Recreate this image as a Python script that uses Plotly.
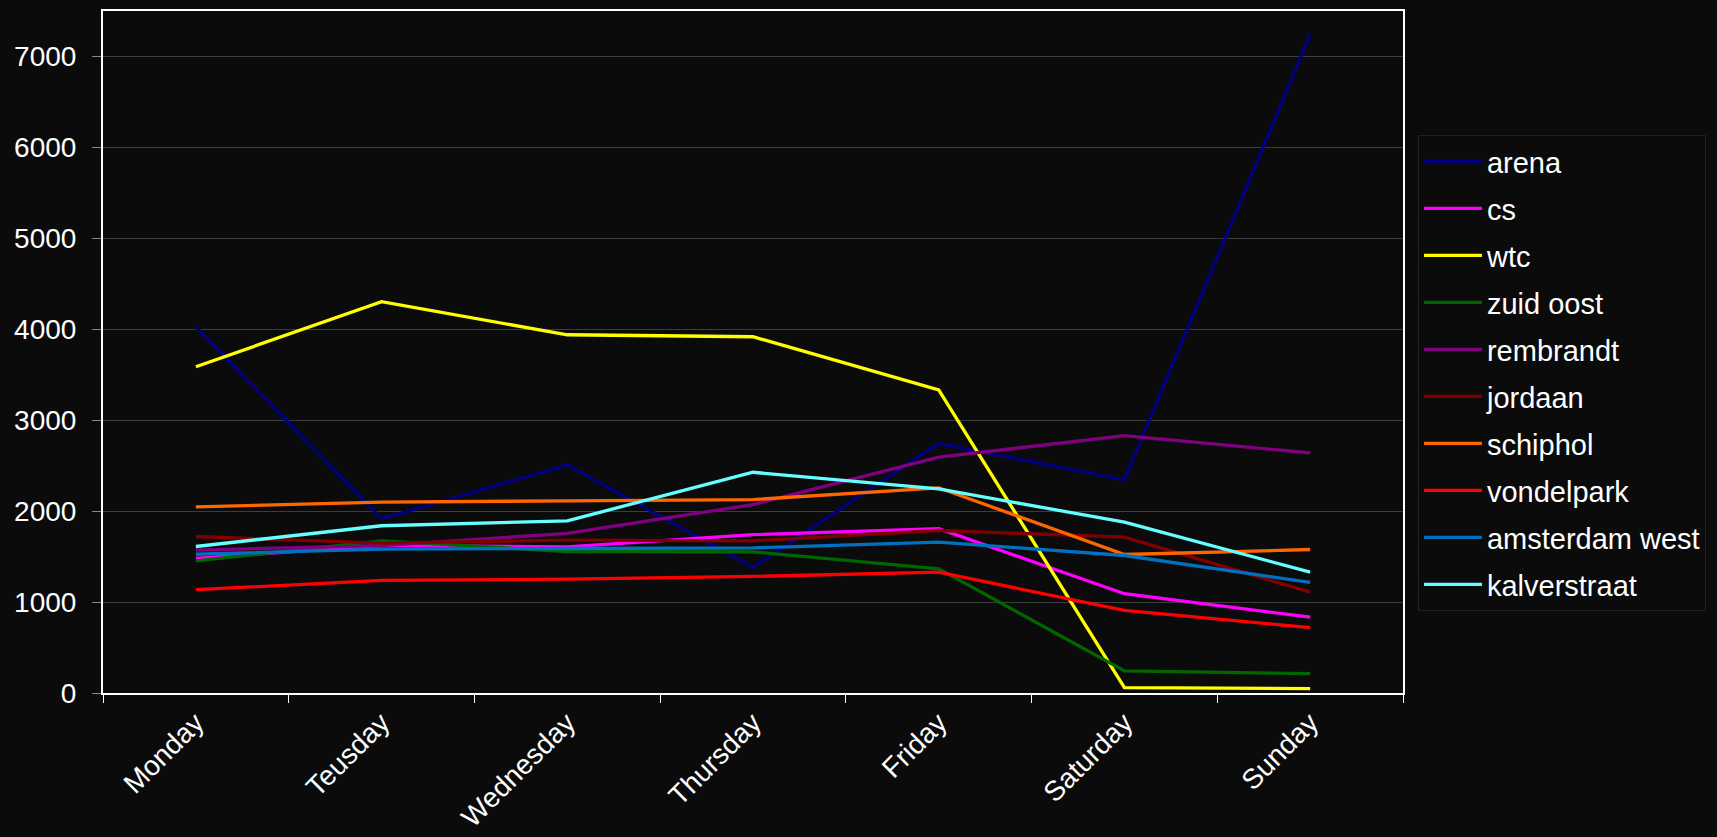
import plotly.graph_objects as go

# Weekly visitor counts per location
days = ["Monday", "Teusday", "Wednesday", "Thursday", "Friday", "Saturday", "Sunday"]

arena = [4025, 1914, 2507, 1380, 2744, 2342, 7238]
cs = [1480, 1623, 1605, 1740, 1805, 1091, 834]
wtc = [3586, 4300, 3937, 3915, 3330, 59, 48]
zuid_oost = [1451, 1672, 1555, 1552, 1365, 242, 213]
rembrandt = [1571, 1620, 1755, 2071, 2591, 2829, 2639]
jordaan = [1720, 1648, 1680, 1672, 1786, 1713, 1109]
schiphol = [2046, 2097, 2112, 2126, 2255, 1522, 1577]
vondelpark = [1135, 1237, 1251, 1281, 1328, 908, 718]
amsterdam_west = [1525, 1582, 1588, 1595, 1658, 1511, 1215]
kalverstraat = [1610, 1838, 1892, 2426, 2244, 1877, 1328]

y_ticks = [0, 1000, 2000, 3000, 4000, 5000, 6000, 7000]

series = [
    ("arena", arena, "#000080"),
    ("cs", cs, "#FF00FF"),
    ("wtc", wtc, "#FFFF00"),
    ("zuid oost", zuid_oost, "#006600"),
    ("rembrandt", rembrandt, "#800080"),
    ("jordaan", jordaan, "#800000"),
    ("schiphol", schiphol, "#FF6600"),
    ("vondelpark", vondelpark, "#FF0000"),
    ("amsterdam west", amsterdam_west, "#0070C0"),
    ("kalverstraat", kalverstraat, "#66FFFF"),
]

FONT = "Liberation Sans, Arial, sans-serif"
BG = "#0b0b0b"

fig = go.Figure()
for name, values, color in series:
    fig.add_trace(go.Scatter(
        x=days, y=values, name=name, mode="lines",
        legendgroup=name,
        line=dict(color=color, width=3.3),
    ))

fig.update_layout(
    width=1717, height=837,
    margin=dict(l=103, r=314, t=11, b=144, autoexpand=False),
    paper_bgcolor=BG, plot_bgcolor=BG,
    font=dict(family=FONT, color="white", size=28),
    showlegend=True,
    legend=dict(
        x=1.0115, xanchor="left", y=0.818, yanchor="top",
        bgcolor=BG, bordercolor="#202020", borderwidth=1,
        font=dict(family=FONT, size=29, color="white"),
        itemwidth=58, tracegroupgap=6.3, traceorder="grouped",
    ),
    xaxis=dict(
        type="category", tickson="boundaries", automargin=False,
        showgrid=False, showline=True, mirror=True,
        linecolor="white", linewidth=2,
        ticks="outside", ticklen=8, tickcolor="white", tickwidth=1,
        tickangle=-45, tickfont=dict(family=FONT, size=28, color="white"),
        range=[-0.5, 6.5],
    ),
    yaxis=dict(
        range=[0, 7495], tickvals=y_ticks, automargin=False,
        showgrid=True, gridcolor="#3c3c3c", gridwidth=1,
        showline=True, mirror=True, linecolor="white", linewidth=2,
        ticks="outside", ticklen=9, tickcolor="#888888", tickwidth=1,
        tickfont=dict(family=FONT, size=28, color="white"),
        zeroline=False, ticklabelstandoff=10,
    ),
)

fig.write_html("out.html")
